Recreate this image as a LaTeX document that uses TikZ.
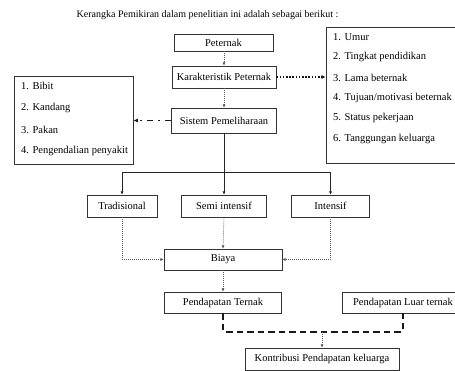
\documentclass[tikz,border=0pt]{standalone}
\usepackage{fontspec}
\setmainfont{Liberation Serif}
\usetikzlibrary{arrows.meta,calc}
\begin{document}
\begin{tikzpicture}[x=1pt,y=-1pt,
  font=\fontsize{10.5}{12}\selectfont,
  box/.style={draw=black!80,line width=0.7pt,inner sep=0pt,minimum width=#1,anchor=center},
  item/.style={anchor=west,inner sep=0pt},
  tip/.style={-{Latex[length=3.2pt,width=3pt]}},
  thindot/.style={tip,draw=black!65,line width=0.6pt,dash pattern=on 1pt off 1pt},
  solidarr/.style={tip,draw=black!85,line width=0.6pt},
  bigdot/.style={-{Latex[length=4pt,width=4pt]},draw=black!90,line width=1.6pt,dash pattern=on 1.6pt off 1.6pt},
  dashdot/.style={-{Latex[length=4.5pt,width=4pt]},draw=black!90,line width=1.5pt,dash pattern=on 6pt off 5pt on 2pt off 5pt},
  bigdash/.style={draw=black!90,line width=1.6pt,dash pattern=on 6.5pt off 4pt,rounded corners=1.5pt}
]
\useasboundingbox (0,0) rectangle (455,371);
\fill[white] (0,0) rectangle (455,371);

\node[inner sep=0pt,font=\fontsize{10}{11}\selectfont] (title) at (207.5,15) {Kerangka Pemikiran dalam penelitian ini adalah sebagai berikut :};

\node[box=99pt,minimum height=17pt] (pet) at (223.5,42.5) {Peternak};
\node[box=104pt,minimum height=22pt] (kar) at (224,77) {Karakteristik Peternak};
\node[box=105pt,minimum height=25pt] (sis) at (224,120.5) {Sistem Pemeliharaan};

\node[box=119pt,minimum height=88pt] (left) at (73.5,120) {};
\node[item] (l1) at (21,86) {1. Bibit};
\node[item] (l2) at (21,108) {2. Kandang};
\node[item] (l3) at (21,129.5) {3. Pakan};
\node[item] (l4) at (21,151) {4. Pengendalian penyakit};

\node[box=136pt,minimum height=136pt] (right) at (394,95) {};
\node[item] (r1) at (333,37) {1. Umur};
\node[item] (r2) at (333,57) {2. Tingkat pendidikan};
\node[item] (r3) at (333,77.5) {3. Lama beternak};
\node[item] (r4) at (333,98) {4. Tujuan/motivasi beternak};
\node[item] (r5) at (333,118) {5. Status pekerjaan};
\node[item] (r6) at (333,138.5) {6. Tanggungan keluarga};

\node[box=70pt,minimum height=22pt] (trad) at (122,206) {Tradisional};
\node[box=85pt,minimum height=22pt] (semi) at (224,206) {Semi intensif};
\node[box=78pt,minimum height=22pt] (int) at (330.5,206) {Intensif};

\node[box=118pt,minimum height=21pt] (biaya) at (223,259.5) {Biaya};
\node[box=117pt,minimum height=21pt] (pt) at (223,302.5) {Pendapatan Ternak};
\node[box=122pt,minimum height=21pt] (plt) at (403,302.5) {Pendapatan Luar ternak};
\node[box=154pt,minimum height=22pt] (kon) at (322,359) {Kontribusi Pendapatan keluarga};

\coordinate (bus) at (224,172.5);
\coordinate (join) at (322,332);

% top chain
\draw[thindot] (pet.south -| kar.north) -- (kar.north);
\draw[thindot] (kar.south) -- (sis.north);
\draw[bigdot] (kar.east) -- (kar.east -| right.west);
\draw[dashdot] (sis.west) -- (sis.west -| left.east);

% tree
\draw[draw=black!85,line width=0.6pt] (sis.south) -- (bus);
\draw[solidarr] (bus) -| (trad.north);
\draw[solidarr] (bus) -- (semi.north);
\draw[solidarr] (bus) -| (int.north);

% to Biaya
\draw[thindot] (trad.south) |- (biaya.west);
\draw[thindot] (semi.south) -- (biaya.north);
\draw[thindot] (int.south) |- (biaya.east);
\draw[thindot] (biaya.south) -- (pt.north);

% to Kontribusi
\draw[bigdash] (pt.south) |- (join) -| (plt.south);
\draw[thindot] (join) -- (kon.north);
\end{tikzpicture}
\end{document}
